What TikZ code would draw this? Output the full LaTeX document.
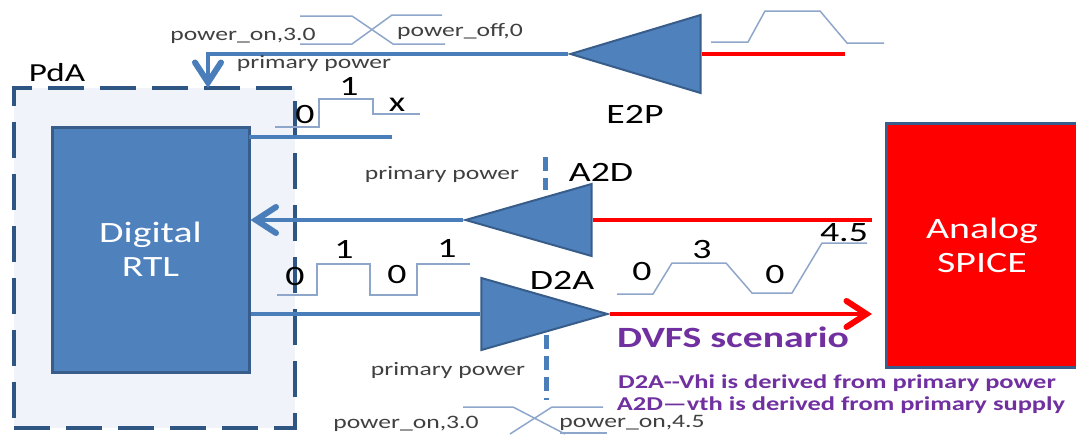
\documentclass[tikz,border=0pt]{standalone}
\usepackage{fontspec}
\setmainfont[FakeStretch=1.35]{Carlito}
\usetikzlibrary{shapes.geometric, arrows.meta}
\definecolor{wireblue}{HTML}{4A7EBB}
\definecolor{fillblue}{HTML}{4F81BD}
\definecolor{edgeblue}{HTML}{385D8A}
\definecolor{dashblue}{HTML}{2F5583}
\definecolor{waveblue}{HTML}{8FA6CB}
\definecolor{paleblue}{HTML}{F0F3F9}
\definecolor{textpurple}{HTML}{7030A0}
\definecolor{textgray}{HTML}{404040}
\tikzset{
    block/.style={draw=edgeblue, line width=3pt, inner sep=0pt, align=center, text=white, font=\fontsize{29.5}{34}\selectfont},
    amp/.style={isosceles triangle, isosceles triangle stretches, draw=edgeblue, line width=2pt, fill=fillblue, inner sep=0pt, minimum width=72pt, minimum height=126pt},
    wire/.style={draw=wireblue, line width=4pt},
    redwire/.style={draw=red, line width=4pt},
    powerdash/.style={draw=wireblue, line width=5pt, dash pattern=on 14pt off 7pt},
    wave/.style={draw=waveblue, line width=1.5pt},
    biglabel/.style={font=\fontsize{28}{28}\selectfont, text=black, inner sep=0pt},
    smalllabel/.style={font=\fontsize{19}{19}\selectfont, text=textgray, inner sep=0pt},
    notelabel/.style={font=\fontsize{19.6}{19.6}\selectfont\bfseries, text=textpurple, inner sep=0pt},
    barb/.style={-{Straight Barb[length=20pt, width=26pt, line width=6pt, line cap=round]}}
}

\begin{document}
\begin{tikzpicture}[x=1pt, y=-1pt]
    \useasboundingbox (0,0) rectangle (1076,434);

    % Domain and blocks
    \node[draw=dashblue, fill=paleblue, line width=3.5pt, dash pattern=on 36pt off 16pt, minimum width=281pt, minimum height=340pt, inner sep=0pt] (pda) at (154.5,258) {};
    \node[block, fill=fillblue, minimum width=197pt, minimum height=245pt] (digital) at (150.5,249.5) {Digital\\RTL};
    \node[block, fill=red, minimum width=192pt, minimum height=244pt] (analog) at (982,245) {Analog\\SPICE};
    \node[biglabel, font=\fontsize{26}{26}\selectfont] (pdalabel) at (57,73) {PdA};

    % Converters
    \node[amp, shape border rotate=180, anchor=apex, minimum height=130pt, minimum width=78pt] (e2p) at (568,54) {};
    \node[amp, shape border rotate=180, anchor=apex] (a2d) at (463,220) {};
    \node[amp, anchor=apex] (d2a) at (610,314) {};
    \node[biglabel] (e2plabel) at (635,114) {E2P};
    \node[biglabel] (a2dlabel) at (601,172) {A2D};
    \node[biglabel] (d2alabel) at (562,280) {D2A};

    % Free ends
    \coordinate (e2pin) at (845,54);
    \coordinate (pwrcorner) at (208,54);
    \coordinate (pwrin) at (208,88);
    \coordinate (rtlout) at (392,137);
    \coordinate (rtlstub) at (249,137);
    \coordinate (a2dred) at (872,220);
    \coordinate (d2ared) at (872,314);
    \coordinate (a2dpwr) at (545,157);
    \coordinate (a2dpwrend) at (545,190);
    \coordinate (d2apwr) at (546,335);
    \coordinate (d2apwrend) at (546,400);

    % Connectors
    \draw[wire, barb] (e2p.apex) -- (pwrcorner) -- (pwrin);
    \draw[redwire] (e2p.lower side) -- (e2pin);
    \draw[wire] (rtlstub) -- (rtlout);
    \draw[wire, barb] (a2d.apex) -- (digital.east |- a2d.apex);
    \draw[redwire] (a2d.lower side) -- (a2dred);
    \draw[wire] (digital.east |- d2a.lower side) -- (d2a.lower side);
    \draw[redwire, barb] (d2a.apex) -- (d2ared);
    \draw[powerdash] (a2dpwr) -- (a2dpwrend);
    \draw[powerdash] (d2apwr) -- (d2apwrend);

    % Waveforms
    \draw[wave] (711,42) -- (748,42) -- (765,11) -- (820,11) -- (847,43) -- (884,43);
    \draw[wave] (300,16) -- (352,16) -- (393,44) -- (445,44);
    \draw[wave] (300,44) -- (352,44) -- (392,15) -- (442,15);
    \draw[wave] (275,127) -- (319,127) -- (319,99) -- (373,99) -- (373,114) -- (420,114);
    \draw[wave] (277,295) -- (317,295) -- (317,264) -- (370,264) -- (370,295) -- (417,295) -- (417,264) -- (470,264);
    \draw[wave] (617,294) -- (653,294) -- (672,263) -- (726,263) -- (752,293) -- (792,293) -- (822,243) -- (867,243);
    \draw[wave] (463,407) -- (513,407) -- (565,434);
    \draw[wave] (603,407) -- (552,407) -- (510,434);
    \draw[wave] (560,433) -- (607,433);

    % Levels
    \node[biglabel] (lvla) at (305,115) {0};
    \node[biglabel] (lvlb) at (349,86) {1};
    \node[biglabel] (lvlc) at (397,105) {x};
    \node[biglabel] (lvld) at (295,277) {0};
    \node[biglabel] (lvle) at (344,249) {1};
    \node[biglabel] (lvlf) at (397,275) {0};
    \node[biglabel] (lvlg) at (447,248) {1};
    \node[biglabel] (lvlh) at (642,272) {0};
    \node[biglabel] (lvli) at (702,250) {3};
    \node[biglabel] (lvlj) at (775,275) {0};
    \node[biglabel] (lvlk) at (844,233) {4.5};

    % Power labels
    \node[smalllabel] (ona) at (243,36) {power\_on,3.0};
    \node[smalllabel] (offa) at (460,31) {power\_off,0};
    \node[smalllabel] (pwra) at (314,63) {primary power};
    \node[smalllabel] (pwrb) at (442,174) {primary power};
    \node[smalllabel] (pwrc) at (448,370) {primary power};
    \node[smalllabel] (onb) at (406,424) {power\_on,3.0};
    \node[smalllabel] (onc) at (632,423) {power\_on,4.5};

    % Notes
    \node[notelabel, font=\fontsize{29.4}{29.4}\selectfont\bfseries] (dvfs) at (733,337) {DVFS scenario};
    \node[notelabel] (notea) at (837,383) {D2A-{}-Vhi is derived from primary power};
    \node[notelabel] (noteb) at (841,405) {A2D—vth is derived from primary supply};
\end{tikzpicture}
\end{document}
